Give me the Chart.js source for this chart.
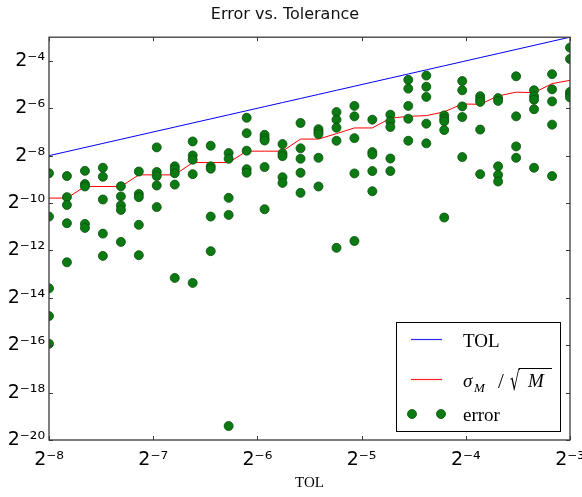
<!DOCTYPE html>
<html>
<head>
<meta charset="utf-8">
<script src="https://cdn.jsdelivr.net/npm/chart.js@4.4.0/dist/chart.umd.min.js"></script>
<style>
  html, body { margin: 0; padding: 0; background: #fff; }
</style>
</head>
<body>
<canvas id="errChart" width="582" height="497"></canvas>
<script>
// log2(TOL) of each column of runs
const tolExp = [-8.000, -7.828, -7.655, -7.483, -7.310, -7.138, -6.966, -6.793, -6.621, -6.448,
                -6.276, -6.103, -5.931, -5.759, -5.586, -5.414, -5.241, -5.069, -4.897, -4.724,
                -4.552, -4.379, -4.207, -4.034, -3.862, -3.690, -3.517, -3.345, -3.172, -3.000];

// log2(sigma_M / sqrt(M)) per column
const sigmaExp = [-9.79, -9.79, -9.30, -9.30, -9.30, -8.81, -8.81, -8.81, -8.29, -8.29,
                  -8.29, -7.81, -7.81, -7.81, -7.30, -7.30, -7.07, -6.83, -6.83, -6.42,
                  -6.34, -6.31, -6.15, -5.82, -5.83, -5.48, -5.32, -5.34, -4.96, -4.82];

// log2(error) of the runs, one list per column
const errorExp = [
  [-8.74, -10.57, -13.60, -14.77, -15.94],
  [-8.86, -9.75, -10.08, -10.85, -12.50],
  [-8.64, -9.20, -9.30, -10.88, -11.05],
  [-8.51, -8.89, -9.85, -11.29, -12.23],
  [-9.29, -9.72, -10.10, -10.29, -11.64],
  [-8.67, -9.62, -9.75, -10.92, -12.20],
  [-7.65, -8.69, -8.86, -9.26, -10.17],
  [-8.45, -8.58, -8.74, -9.22, -13.16],
  [-7.40, -7.99, -8.17, -8.78, -13.37],
  [-7.58, -8.45, -8.55, -10.57, -12.03],
  [-7.89, -8.13, -9.78, -10.50, -19.41],
  [-6.40, -7.05, -7.79, -8.57, -8.72],
  [-7.12, -7.26, -7.36, -8.48, -10.26],
  [-7.51, -7.90, -8.02, -8.91, -9.15],
  [-6.62, -7.69, -8.13, -8.72, -9.57],
  [-6.88, -6.99, -7.09, -8.09, -9.30],
  [-6.16, -6.48, -6.82, -7.37, -11.89],
  [-5.90, -6.34, -7.26, -8.75, -11.60],
  [-6.48, -7.85, -7.95, -8.65, -9.50],
  [-6.27, -6.55, -6.79, -8.12, -8.65],
  [-4.80, -5.17, -5.90, -6.44, -7.37],
  [-4.62, -5.09, -5.52, -6.65, -7.48],
  [-6.30, -6.44, -6.55, -6.92, -10.61],
  [-4.85, -5.24, -5.92, -6.37, -8.06],
  [-5.49, -5.62, -5.73, -6.90, -8.78],
  [-5.57, -5.69, -8.45, -8.81, -9.09],
  [-4.65, -6.34, -7.61, -8.09],
  [-5.24, -5.49, -5.64, -6.04, -8.51],
  [-4.56, -5.20, -5.71, -6.69, -8.86],
  [-3.44, -3.92, -5.31, -5.42, -5.54]
];

const xTickExp = [-8, -7, -6, -5, -4, -3];
const yTickExp = [-20, -18, -16, -14, -12, -10, -8, -6, -4];

// build points for the log2 axes
const tolPoints = tolExp.map(e => ({ x: 2 ** e, y: 2 ** e }));
const sigmaPoints = tolExp.map((e, i) => ({ x: 2 ** e, y: 2 ** sigmaExp[i] }));
const errorPoints = [];
errorExp.forEach((col, i) => {
    col.forEach(v => errorPoints.push({ x: 2 ** tolExp[i], y: 2 ** v }));
});

const sup = { '-': '\u207B', '0': '\u2070', '1': '\u00B9', '2': '\u00B2', '3': '\u00B3',
              '4': '\u2074', '5': '\u2075', '6': '\u2076', '7': '\u2077', '8': '\u2078', '9': '\u2079' };
function powLabel(value) {
    const e = Math.round(Math.log2(value));
    return '2' + String(e).split('').map(c => sup[c]).join('');
}

// frame and inward tick marks, like the original
const frameTicks = {
    id: 'frameTicks',
    afterDatasetsDraw(chart) {
        const { ctx, chartArea: a, scales } = chart;
        ctx.save();
        ctx.strokeStyle = '#3a3a3a';
        ctx.lineWidth = 1;
        ctx.beginPath();
        scales.x.ticks.forEach(t => {
            const px = Math.round(scales.x.getPixelForValue(t.value)) + 0.5;
            ctx.moveTo(px, a.bottom); ctx.lineTo(px, a.bottom - 4);
            ctx.moveTo(px, a.top); ctx.lineTo(px, a.top + 4);
        });
        scales.y.ticks.forEach(t => {
            const py = Math.round(scales.y.getPixelForValue(t.value)) + 0.5;
            ctx.moveTo(a.left, py); ctx.lineTo(a.left + 4, py);
            ctx.moveTo(a.right, py); ctx.lineTo(a.right - 4, py);
        });
        ctx.stroke();
        ctx.lineWidth = 1.3;
        ctx.strokeRect(a.left, a.top, a.right - a.left, a.bottom - a.top);
        ctx.restore();
    }
};

// legend box in the lower right corner of the plot
const cornerLegend = {
    id: 'cornerLegend',
    afterDraw(chart) {
        const { ctx, chartArea: a } = chart;
        const x0 = Math.round(a.right) - 174, y0 = Math.round(a.bottom) - 118, w = 164, h = 109;
        ctx.save();
        ctx.fillStyle = '#fff';
        ctx.fillRect(x0, y0, w, h);
        ctx.strokeStyle = '#000';
        ctx.lineWidth = 1;
        ctx.strokeRect(x0 + 0.5, y0 + 0.5, w, h);

        // samples
        ctx.lineWidth = 1.2;
        ctx.strokeStyle = '#2a2aff';
        ctx.beginPath(); ctx.moveTo(x0 + 15, y0 + 17.5); ctx.lineTo(x0 + 46, y0 + 17.5); ctx.stroke();
        ctx.strokeStyle = '#ff2020';
        ctx.beginPath(); ctx.moveTo(x0 + 15, y0 + 57.5); ctx.lineTo(x0 + 46, y0 + 57.5); ctx.stroke();
        ctx.fillStyle = '#0b7a12';
        ctx.strokeStyle = '#074f0a';
        ctx.lineWidth = 0.8;
        [x0 + 16, x0 + 45].forEach(cx => {
            ctx.beginPath(); ctx.arc(cx, y0 + 92, 4.5, 0, Math.PI * 2); ctx.fill(); ctx.stroke();
        });

        // labels
        const tx = x0 + 67;
        ctx.fillStyle = '#000';
        ctx.textBaseline = 'alphabetic';
        ctx.font = '19px "Liberation Serif"';
        ctx.fillText('TOL', tx, y0 + 25);
        ctx.fillText('error', tx, y0 + 99);

        // sigma_M / sqrt(M)
        const base = y0 + 65;
        ctx.font = 'italic 19px "Liberation Serif"';
        ctx.fillText('\u03C3', tx, base);
        ctx.font = 'italic 13px "Liberation Serif"';
        ctx.fillText('M', tx + 11, base + 5);
        ctx.font = '21px "Liberation Serif"';
        ctx.fillText('/', tx + 35, base + 1);
        ctx.font = '18px "DejaVu Serif"';
        const m = ctx.measureText('\u221A');
        const sx = 0.85, sy = 1.45;
        const rx = tx + 47, ry = base + 3;
        ctx.save();
        ctx.translate(rx, ry);
        ctx.scale(sx, sy);
        ctx.fillText('\u221A', 0, 0);
        ctx.restore();
        const topY = Math.round(ry - m.actualBoundingBoxAscent * sy) + 0.5;
        const leftX = rx + m.actualBoundingBoxRight * sx - 1.5;
        ctx.font = 'italic 19px "Liberation Serif"';
        ctx.fillText('M', tx + 65, base);
        ctx.strokeStyle = '#000';
        ctx.lineWidth = 1;
        ctx.beginPath(); ctx.moveTo(leftX, topY); ctx.lineTo(tx + 89, topY); ctx.stroke();
        ctx.restore();
    }
};

const ctx = document.getElementById('errChart').getContext('2d');
const myChart = new Chart(ctx, {
    type: 'scatter',
    data: {
        datasets: [{
            label: 'error',
            data: errorPoints,
            order: 0,
            pointRadius: 4.5,
            pointBackgroundColor: '#0b7a12',
            pointBorderColor: '#074f0a',
            pointBorderWidth: 0.8
        }, {
            label: 'TOL',
            data: tolPoints,
            order: 2,
            showLine: true,
            borderColor: '#0000ff',
            borderWidth: 1,
            pointRadius: 0
        }, {
            label: 'sigma_M / sqrt(M)',
            data: sigmaPoints,
            order: 1,
            showLine: true,
            borderColor: '#ff0000',
            borderWidth: 1,
            pointRadius: 0
        }]
    },
    options: {
        responsive: false,
        animation: false,
        layout: { padding: { left: 0, right: 12, top: 0, bottom: 0 } },
        plugins: {
            legend: { display: false },
            tooltip: { enabled: false },
            title: {
                display: true,
                text: 'Error vs. Tolerance',
                color: '#111',
                font: { family: 'DejaVu Sans', size: 16, weight: 'normal' },
                padding: { top: 5, bottom: 13 }
            }
        },
        scales: {
            x: {
                type: 'logarithmic',
                min: 2 ** -8,
                max: 2 ** -3,
                afterBuildTicks: scale => { scale.ticks = xTickExp.map(e => ({ value: 2 ** e })); },
                afterFit: scale => {
                    scale.height = 57;
                    scale.paddingLeft = 0;
                    scale.paddingRight = 0;
                },
                grid: { display: false, drawTicks: false },
                border: { display: false },
                ticks: {
                    callback: powLabel,
                    color: '#000',
                    padding: 9,
                    maxRotation: 0,
                    autoSkip: false,
                    font: { family: 'DejaVu Sans', size: 19 }
                },
                title: {
                    display: true,
                    text: 'TOL',
                    color: '#000',
                    padding: { top: 0, bottom: 5 },
                    font: { family: 'Liberation Serif', size: 15 }
                }
            },
            y: {
                type: 'logarithmic',
                min: 2 ** -20,
                max: 2 ** -3,
                afterBuildTicks: scale => { scale.ticks = yTickExp.map(e => ({ value: 2 ** e })); },
                afterFit: scale => {
                    scale.width = 49;
                    scale.paddingTop = 0;
                    scale.paddingBottom = 0;
                },
                grid: { display: false, drawTicks: false },
                border: { display: false },
                ticks: {
                    callback: powLabel,
                    color: '#000',
                    padding: 4,
                    autoSkip: false,
                    font: { family: 'DejaVu Sans', size: 19 }
                }
            }
        }
    },
    plugins: [frameTicks, cornerLegend]
});
</script>
</body>
</html>
